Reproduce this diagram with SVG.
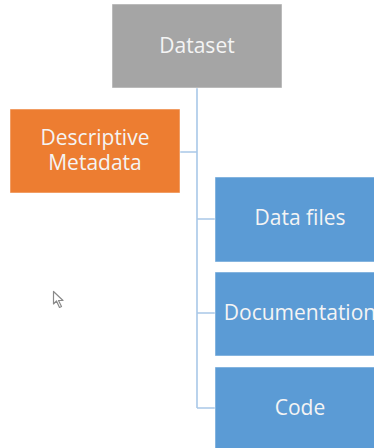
<svg xmlns="http://www.w3.org/2000/svg" width="374" height="448" viewBox="0 0 374 448">
<style>
.box{stroke:#ffffff;stroke-opacity:0.5;stroke-width:1}
.lbl{font-family:"Open Sans","Noto Sans","Liberation Sans",sans-serif;font-size:21px;fill:#f4f4f4;text-anchor:middle}
.conn{stroke:#a9c8e8;stroke-width:1.6;fill:none}
</style>
<rect width="374" height="448" fill="#ffffff"/>
<g id="connectors">
<path class="conn" d="M197,88 V408 M180,152 H197 M197,219 H215 M197,313 H215 M197,408 H215"/>
</g>
<g id="dataset">
<rect class="box" x="112" y="4" width="170" height="84" fill="#a5a5a5"/>
<text class="lbl" x="197" y="53">Dataset</text>
</g>
<g id="metadata">
<rect class="box" x="10" y="109" width="170" height="84" fill="#ed7d31"/>
<text class="lbl" x="95" y="145">Descriptive</text>
<text class="lbl" x="95" y="170">Metadata</text>
</g>
<g id="datafiles">
<rect class="box" x="215" y="177" width="170" height="85" fill="#5b9bd5"/>
<text class="lbl" x="300" y="225">Data files</text>
</g>
<g id="documentation">
<rect class="box" x="215" y="272" width="170" height="84" fill="#5b9bd5"/>
<text class="lbl" x="300" y="320">Documentation</text>
</g>
<g id="code">
<rect class="box" x="215" y="367" width="170" height="90" fill="#5b9bd5"/>
<text class="lbl" x="300" y="415">Code</text>
</g>
<path d="M53.5,291.5 V304 L56.5,301 L59.5,307.5 L61.5,306.5 L58.5,300.5 L63,300.5 Z" fill="#ffffff" stroke="#8a8a8a" stroke-width="1.2" stroke-linejoin="round"/>
</svg>
